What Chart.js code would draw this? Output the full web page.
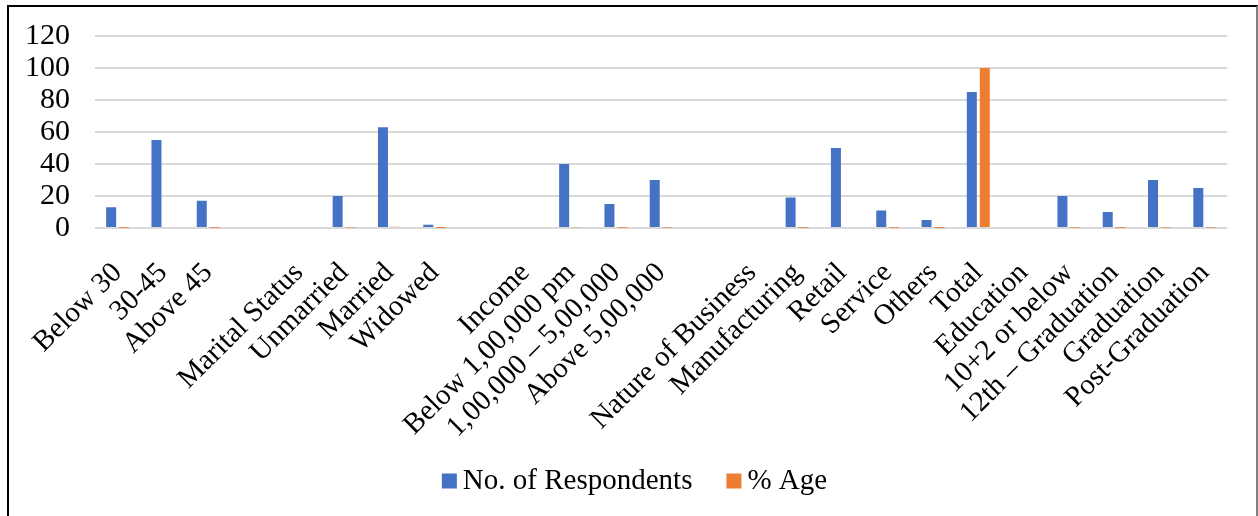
<!DOCTYPE html>
<html>
<head>
<meta charset="utf-8">
<script src="https://cdn.jsdelivr.net/npm/chart.js@4/dist/chart.umd.min.js"></script>
<style>
  html, body { margin: 0; padding: 0; background: #fff; }
  #wrap { position: relative; width: 1258px; height: 516px; overflow: hidden; }
  #chart { position: absolute; left: 0; top: 0; }
  #frame {
    position: absolute; left: 7px; top: 5px; width: 1247px; height: 540px;
    border-left: 2px solid #000; border-top: 2px solid #000; border-right: 2px solid #808080;
    pointer-events: none;
  }
</style>
</head>
<body>
<div id="wrap">
  <canvas id="chart" width="1258" height="516"></canvas>
  <div id="frame"></div>
</div>
<script>
// Respondent profile categories (blank entries separate the groups)
const categories = [
  'Below 30', '30-45', 'Above 45', '',
  'Marital Status', 'Unmarried', 'Married', 'Widowed', '',
  'Income', 'Below 1,00,000 pm', '1,00,000 – 5,00,000', 'Above 5,00,000', '',
  'Nature of Business', 'Manufacturing', 'Retail', 'Service', 'Others', 'Total',
  'Education', '10+2 or below', '12th – Graduation', 'Graduation', 'Post-Graduation'
];

const respondents = [
  13, 55, 17, null,
  null, 20, 63, 2, null,
  null, 40, 15, 30, null,
  null, 19, 50, 11, 5, 85,
  null, 20, 10, 30, 25
];

const percentAge = [
  0.15, 0.65, 0.2, null,
  null, 0.24, 0.74, 0.02, null,
  null, 0.47, 0.18, 0.35, null,
  null, 0.22, 0.59, 0.13, 0.06, 100,
  null, 0.24, 0.12, 0.35, 0.29
];

const seriesNames = ['No. of Respondents', '% Age'];
const seriesColors = ['#4472C4', '#ED7D31'];
const yTicks = [0, 20, 40, 60, 80, 100, 120];

const FONT = "'Liberation Serif', 'Times New Roman', serif";
const FONT_SIZE = 29;

// Legend drawn under the plot: square swatch, small gap, label
const bottomLegend = {
  id: 'bottomLegend',
  afterDraw(chart) {
    const ctx = chart.ctx;
    const box = 15, gap = 6, spacing = 34;
    ctx.save();
    ctx.font = FONT_SIZE + 'px ' + FONT;
    ctx.textBaseline = 'middle';
    const items = chart.data.datasets.map(ds => ({
      text: ds.label, color: ds.backgroundColor, w: ctx.measureText(ds.label).width
    }));
    const total = items.reduce((s, it) => s + box + gap + it.w, 0) + spacing * (items.length - 1);
    let x = 634.5 - total / 2;
    const cy = 481;
    items.forEach(it => {
      ctx.fillStyle = it.color;
      ctx.fillRect(x, cy - box / 2, box, box);
      ctx.fillStyle = '#000';
      ctx.fillText(it.text, x + box + gap, cy);
      x += box + gap + it.w + spacing;
    });
    ctx.restore();
  }
};

new Chart(document.getElementById('chart'), {
  type: 'bar',
  data: {
    labels: categories,
    datasets: [
      { label: seriesNames[0], data: respondents, backgroundColor: seriesColors[0],
        barPercentage: 0.77, categoryPercentage: 0.573 },
      { label: seriesNames[1], data: percentAge, backgroundColor: seriesColors[1],
        barPercentage: 0.77, categoryPercentage: 0.573 }
    ]
  },
  options: {
    responsive: false,
    animation: false,
    layout: { padding: { left: 0, right: 29, top: 36, bottom: 0 } },
    plugins: {
      legend: { display: false },
      tooltip: { enabled: false }
    },
    scales: {
      x: {
        grid: { display: false, drawTicks: false },
        border: { display: false },
        ticks: {
          color: '#000',
          font: { family: FONT, size: FONT_SIZE },
          minRotation: 45, maxRotation: 45,
          autoSkip: false,
          padding: 28
        },
        afterFit(scale) { scale.height = 288; }
      },
      y: {
        min: 0, max: 120,
        afterBuildTicks(scale) { scale.ticks = yTicks.map(v => ({ value: v })); },
        grid: { color: '#d9d9d9', lineWidth: 2, drawTicks: false },
        border: { display: false },
        ticks: {
          color: '#000',
          font: { family: FONT, size: 30, lineHeight: 0.7 },
          padding: 25,
          autoSkip: false
        },
        afterFit(scale) { scale.width = 95; }
      }
    }
  },
  plugins: [bottomLegend]
});
</script>
</body>
</html>
